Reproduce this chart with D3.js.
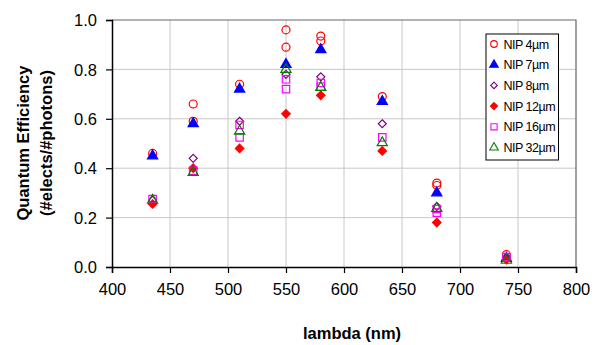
<!DOCTYPE html>
<html><head><meta charset="utf-8">
<script src="https://cdn.jsdelivr.net/npm/d3@7"></script>
<style>body{margin:0;background:#fff;} svg{display:block;font-family:"Liberation Sans",Arial,sans-serif;}</style>
</head><body><svg id="c" width="594" height="345"></svg>
<script>
const xTicks = [400,450,500,550,600,650,700,750,800];
const yTicks = [0.0,0.2,0.4,0.6,0.8,1.0];
const seriesNames = ["NIP 4µm","NIP 7µm","NIP 8µm","NIP 12µm","NIP 16µm","NIP 32µm"];
const nip4X = [435,470,470,510,550,550,580,580,633,680,680,740];
const nip4Y = [0.46,0.66,0.59,0.74,0.96,0.89,0.935,0.915,0.69,0.34,0.33,0.05];
const nip7X = [435,470,510,550,580,633,680,740];
const nip7Y = [0.45,0.58,0.72,0.82,0.88,0.67,0.30,0.035];
const nip8X = [435,470,510,550,580,633,680,740];
const nip8Y = [0.27,0.44,0.59,0.78,0.77,0.58,0.245,0.04];
const nip12X = [435,470,510,550,580,633,680,740];
const nip12Y = [0.255,0.40,0.48,0.62,0.695,0.47,0.18,0.03];
const nip16X = [435,470,510,510,550,550,580,580,633,680,680,740];
const nip16Y = [0.275,0.39,0.575,0.525,0.76,0.72,0.745,0.73,0.525,0.22,0.235,0.04];
const nip32X = [435,470,510,550,580,633,680,740];
const nip32Y = [0.27,0.383,0.55,0.80,0.727,0.503,0.237,0.027];

const symDiamond = {draw(ctx,size){const r=Math.sqrt(size/2);ctx.moveTo(0,-r);ctx.lineTo(r,0);ctx.lineTo(0,r);ctx.lineTo(-r,0);ctx.closePath();}};
const styles = [
  {sym:d3.symbolCircle, size:50, fill:"none", stroke:"#ff0000"},
  {sym:d3.symbolTriangle, size:45, fill:"#0000ff", stroke:"#0000ff"},
  {sym:symDiamond, size:32, fill:"none", stroke:"#800080"},
  {sym:symDiamond, size:36, fill:"#ff0000", stroke:"#ff0000"},
  {sym:d3.symbolSquare, size:55, fill:"none", stroke:"#ff00ff"},
  {sym:d3.symbolTriangle, size:45, fill:"none", stroke:"#008000"}
];
const series = [[nip4X,nip4Y],[nip7X,nip7Y],[nip8X,nip8Y],[nip12X,nip12Y],[nip16X,nip16Y],[nip32X,nip32Y]];

const svg = d3.select("#c");
const L=112, R=576, T=20, B=267;
const x = d3.scaleLinear().domain([400,800]).range([L,R]);
const y = d3.scaleLinear().domain([0,1]).range([B,T]);

// grid
svg.append("g").selectAll("line").data(xTicks.slice(1,-1)).join("line")
  .attr("x1",d=>x(d)).attr("x2",d=>x(d)).attr("y1",T).attr("y2",B)
  .attr("stroke","#c8c8c8").attr("stroke-width",1);
svg.append("g").selectAll("line").data(yTicks.slice(1,-1)).join("line")
  .attr("x1",L).attr("x2",R).attr("y1",d=>y(d)).attr("y2",d=>y(d))
  .attr("stroke","#c8c8c8").attr("stroke-width",1);
// frame top/right
svg.append("path").attr("d",`M${L},${T}H${R}V${B}`).attr("fill","none").attr("stroke","#666").attr("stroke-width",1.2);

const xAxis = svg.append("g").attr("transform",`translate(0,${B})`)
  .call(d3.axisBottom(x).tickValues(xTicks).tickSize(6).tickPadding(10).tickFormat(d3.format("d")));
const yAxis = svg.append("g").attr("transform",`translate(${L},0)`)
  .call(d3.axisLeft(y).tickValues(yTicks).tickSize(6).tickPadding(9).tickFormat(d3.format(".1f")));
[xAxis,yAxis].forEach(a=>{
  a.select(".domain").attr("stroke","#000").attr("stroke-width",1.5);
  a.selectAll(".tick line").attr("stroke","#000").attr("stroke-width",1.2);
  a.selectAll(".tick text").attr("font-size",16.5).attr("fill","#000").attr("font-family","Liberation Sans, Arial, sans-serif");
});
yAxis.selectAll(".tick text").attr("dy","0.35em");

// points
series.forEach((s,i)=>{
  const st=styles[i];
  const pts = s[0].map((v,j)=>[v,s[1][j]]);
  svg.append("g").selectAll("path").data(pts).join("path")
    .attr("d",d3.symbol().type(st.sym).size(st.size))
    .attr("transform",d=>`translate(${x(d[0])},${y(d[1])})`)
    .attr("fill",st.fill).attr("stroke",st.stroke).attr("stroke-width",1.2);
});

// legend
const lg = svg.append("g");
lg.append("rect").attr("x",486).attr("y",34).attr("width",72.5).attr("height",126)
  .attr("fill","#fff").attr("stroke","#000").attr("stroke-width",1);
seriesNames.forEach((n,i)=>{
  const st=styles[i];
  const yy = 44 + i*20.7;
  lg.append("path").attr("d",d3.symbol().type(st.sym).size(st.size*0.7))
    .attr("transform",`translate(494,${yy})`)
    .attr("fill",st.fill).attr("stroke",st.stroke).attr("stroke-width",1.1);
  lg.append("text").attr("x",503.5).attr("y",yy).attr("dy","0.36em")
    .attr("font-size",12.5).attr("letter-spacing","-0.5").text(n);
});

// titles
svg.append("text").attr("x",352).attr("y",339).attr("text-anchor","middle")
  .attr("font-weight","bold").attr("font-size",16.5).text("lambda (nm)");
const yt = svg.append("text").attr("transform","translate(0,143) rotate(-90)")
  .attr("text-anchor","middle").attr("font-weight","bold").attr("font-size",16.5);
yt.append("tspan").attr("x",0).attr("y",29).text("Quantum Efficiency");
yt.append("tspan").attr("x",0).attr("y",52).text("(#elects/#photons)");
</script></body></html>
